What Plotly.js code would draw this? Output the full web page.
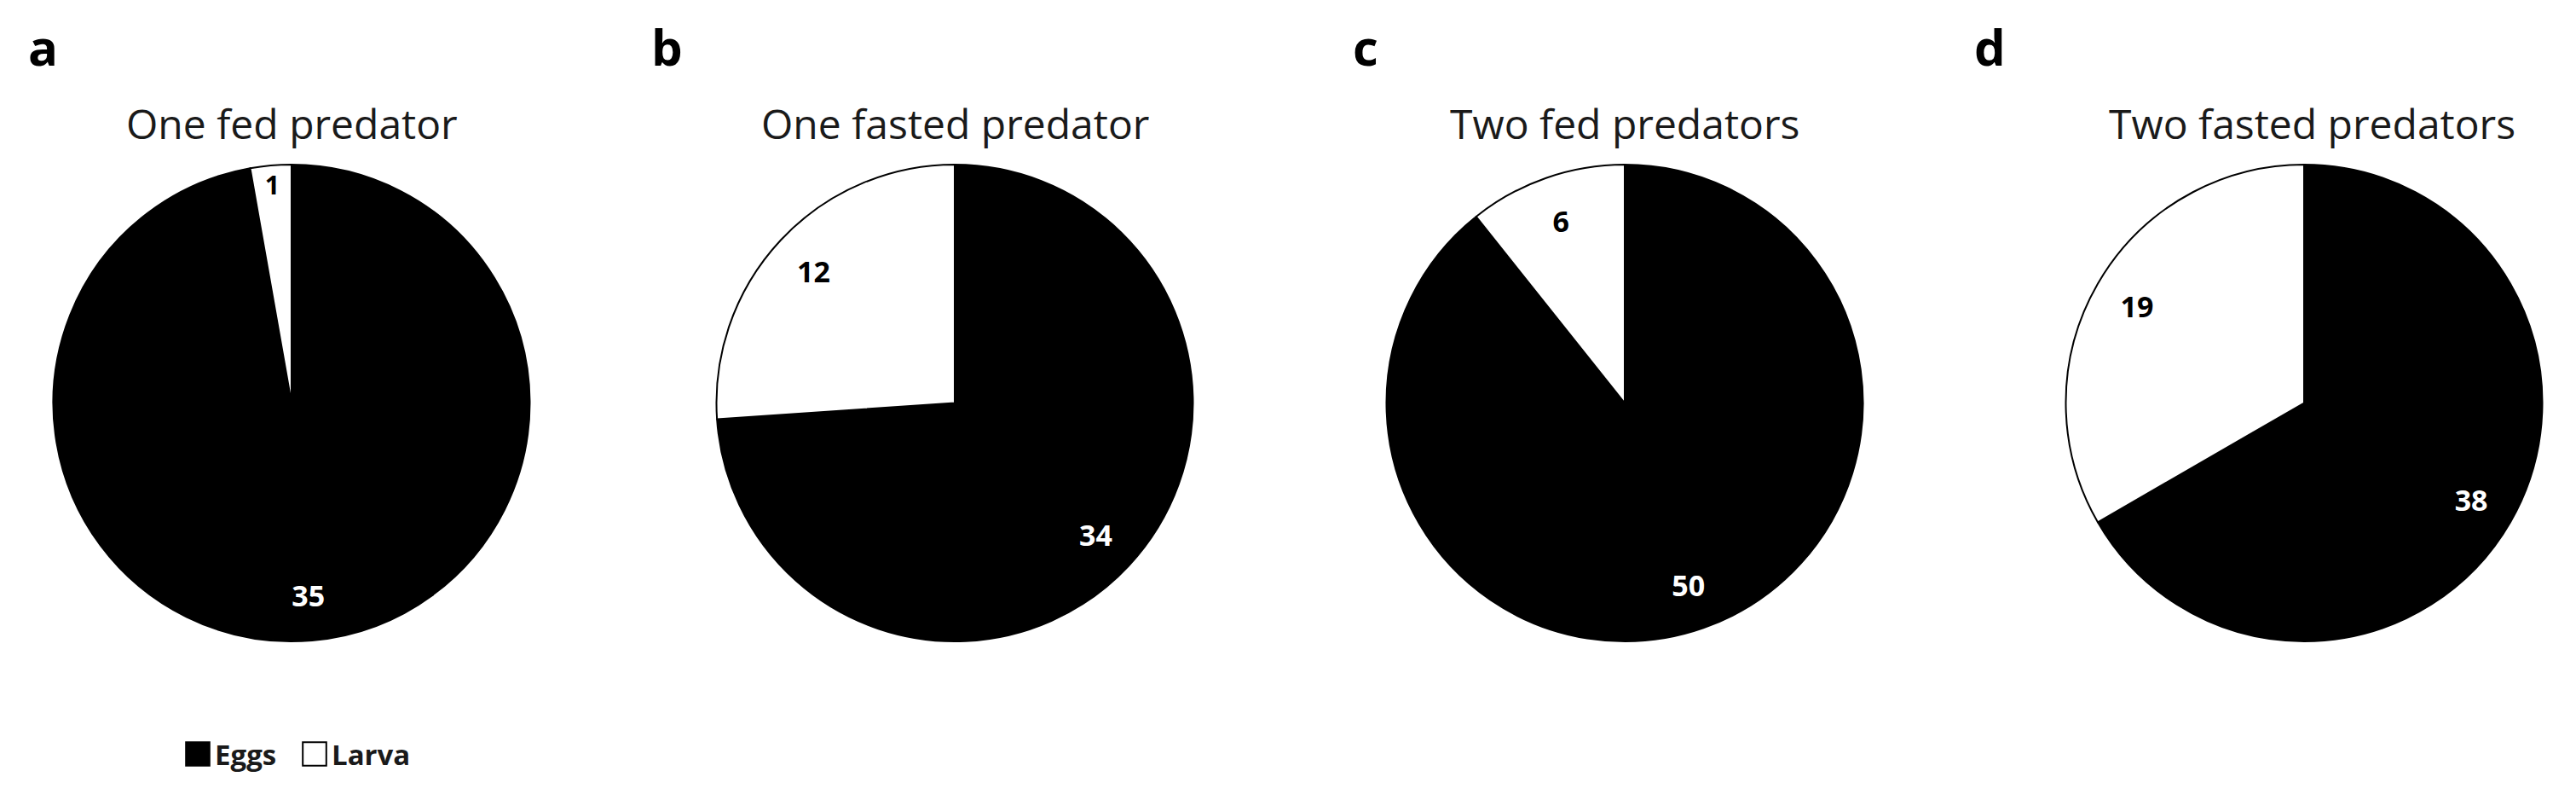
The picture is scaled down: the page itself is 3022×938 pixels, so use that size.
<!DOCTYPE html>
<html>
<head>
<meta charset="utf-8">
<script src="https://cdn.plot.ly/plotly-3.0.1.min.js"></script>
<style>html,body{margin:0;padding:0;background:#fff;}#chart{width:3022px;height:938px;}</style>
</head>
<body>
<div id="chart"></div>
<script>
// ---- data ----
const panelLetters = ['a', 'b', 'c', 'd'];
const panelTitles = ['One fed predator', 'One fasted predator', 'Two fed predators', 'Two fasted predators'];
const categories = ['Eggs', 'Larva'];
const eggs = [35, 34, 50, 38];
const larva = [1, 12, 6, 19];

// ---- layout helpers (pixel geometry of the figure) ----
const W = 3022, H = 938;
const pieCentersX = [342, 1120, 1906, 2703];
const pieTop = 193, pieBottom = 752;
const R = (pieBottom - pieTop) / 2;
const titleX = [342, 1120, 1906, 2712];
const letterX = [50, 782, 1602, 2334];

const FONT = '"Open Sans", "Noto Sans", sans-serif';

const traces = [];
const annotations = [];

panelLetters.forEach((letter, i) => {
  const domain = {
    x: [(pieCentersX[i] - R) / W, (pieCentersX[i] + R) / W],
    y: [1 - pieBottom / H, 1 - pieTop / H]
  };
  const vals = [eggs[i], larva[i]];
  // filled pie
  traces.push({
    type: 'pie',
    labels: categories,
    values: vals,
    domain: domain,
    sort: false,
    direction: 'clockwise',
    rotation: 0,
    textinfo: 'none',
    hoverinfo: 'skip',
    showlegend: i === 0,
    marker: { colors: ['#000000', '#ffffff'], line: { color: '#000000', width: 2 } }
  });
  // label ring (transparent) to place the values near the rim
  traces.push({
    type: 'pie',
    labels: categories,
    values: vals,
    domain: domain,
    hole: 0.62,
    sort: false,
    direction: 'clockwise',
    rotation: 0,
    textinfo: 'value',
    textposition: 'inside',
    insidetextorientation: 'horizontal',
    textfont: { family: FONT, size: 34, weight: 700, color: ['#ffffff', '#000000'] },
    hoverinfo: 'skip',
    showlegend: false,
    marker: { colors: ['rgba(0,0,0,0)', 'rgba(0,0,0,0)'], line: { width: 0 } }
  });
  annotations.push({
    text: panelTitles[i], xref: 'paper', yref: 'paper',
    x: titleX[i] / W, y: 1 - 145 / H, xanchor: 'center', yanchor: 'middle',
    showarrow: false, font: { family: FONT, size: 48, color: '#1a1a1a' }
  });
  annotations.push({
    text: letter, xref: 'paper', yref: 'paper',
    x: letterX[i] / W, y: 1 - 55 / H, xanchor: 'center', yanchor: 'middle',
    showarrow: false, font: { family: FONT, size: 58, weight: 700, color: '#000000' }
  });
});

const layout = {
  width: W, height: H,
  margin: { l: 0, r: 0, t: 0, b: 0 },
  paper_bgcolor: '#ffffff',
  showlegend: true,
  legend: {
    orientation: 'h', x: 212 / W, y: 1 - 884 / H, xanchor: 'left', yanchor: 'middle',
    font: { family: FONT, size: 33, weight: 700, color: '#1a1a1a' },
    itemwidth: 30, traceorder: 'normal',
    entrywidth: 92, entrywidthmode: 'pixels'
  },
  annotations: annotations
};

Plotly.newPlot('chart', traces, layout, { staticPlot: true }).then(() => {
  document.querySelectorAll('.legendpoints path.legendpie').forEach(p => {
    p.setAttribute('transform', 'translate(20,0) scale(2.3)');
    p.style.vectorEffect = 'non-scaling-stroke';
  });
});
</script>
</body>
</html>
